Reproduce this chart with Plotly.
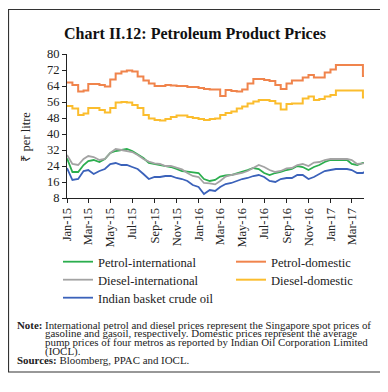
import plotly.graph_objects as go

dates = [
    "2015-01-01", "2015-01-16", "2015-02-01", "2015-02-16", "2015-03-01", "2015-03-16",
    "2015-04-01", "2015-04-16", "2015-05-01", "2015-05-16", "2015-06-01", "2015-06-16",
    "2015-07-01", "2015-07-16", "2015-08-01", "2015-08-16", "2015-09-01", "2015-09-16",
    "2015-10-01", "2015-10-16", "2015-11-01", "2015-11-16", "2015-12-01", "2015-12-16",
    "2016-01-01", "2016-01-16", "2016-02-01", "2016-02-16", "2016-03-01", "2016-03-16",
    "2016-04-01", "2016-04-16", "2016-05-01", "2016-05-16", "2016-06-01", "2016-06-16",
    "2016-07-01", "2016-07-16", "2016-08-01", "2016-08-16", "2016-09-01", "2016-09-16",
    "2016-10-01", "2016-10-16", "2016-11-01", "2016-11-16", "2016-12-01", "2016-12-16",
    "2017-01-01", "2017-01-16", "2017-02-01", "2017-02-16", "2017-03-01", "2017-03-16",
    "2017-04-01", "2017-04-04",
]

petrol_intl = [
    27.8, 21, 21, 24.5, 26.5, 27, 26, 27.5, 30.5, 31.5, 32, 32.5, 31.5, 30, 28, 25.5, 25, 24.5, 24, 23.5, 22.5, 21.5, 21.2, 20.8,
    20.5, 17.5, 16.5, 17, 18.7, 19.3, 19.5, 20.3, 21, 22, 23, 22.5, 20.5, 19.5, 20.5, 21, 22, 22.5, 24, 23.5, 22, 23.5, 24.5, 26,
    27, 27, 27.3, 27, 25, 24.5, 25.5, 25.5,
]
diesel_intl = [
    29.5, 25, 24.5, 27.5, 29, 28.5, 27, 27.5, 30.5, 32.5, 32, 31.5, 31, 29.5, 27.5, 26.2, 25.3, 25, 24, 24, 23, 22.3, 20.5, 19,
    18.5, 15.5, 15.3, 14.8, 16.5, 18.7, 19.5, 20, 20.5, 21.5, 23, 24.5, 23.5, 22, 21, 21.5, 22.8, 23, 24.5, 25, 24, 25.7, 26, 27,
    27.5, 27.5, 27.8, 27.5, 27, 25, 25.3, 25.5,
]
crude_oil = [
    23, 17, 17.5, 21.5, 22, 20, 21.5, 22.5, 25, 25.5, 24.5, 24.5, 23.5, 22.5, 20, 17.5, 18.5, 18.5, 19, 19, 18, 17.5, 16.5, 14.5,
    13.5, 10, 12, 11.5, 13.5, 15, 15.5, 16.5, 17.5, 18, 19, 19.5, 18.5, 16.5, 16, 17.5, 18, 18, 19.5, 19.5, 17.5, 18.5, 20, 21.5,
    22, 22.5, 22.5, 22.5, 22, 20.5, 20.5, 21,
]
petrol_dom = [
    65.7, 64.5, 61.2, 61.7, 65, 65, 64.5, 63.7, 67.3, 70.3, 71.2, 71.7, 71.2, 68.7, 66.7, 65.3, 64, 64, 64.5, 64.3, 64, 64, 63.5, 63.5,
    63, 62.5, 62.3, 62.3, 59, 62, 61.5, 61.2, 62.3, 65.3, 67.5, 67.5, 67, 66.5, 64.5, 62.5, 65.3, 66.7, 66.7, 68.2, 69.5, 68.3, 68.3, 70.7,
    72.3, 74.5, 74.5, 74.5, 74.5, 74.5, 69, 69,
]
diesel_dom = [
    54, 52.8, 49.5, 50.3, 53, 53, 52, 50.7, 53, 55.7, 56, 55.7, 54.5, 53, 49.5, 47.8, 47, 46.7, 47.5, 48.5, 49.2, 49.2, 48.5, 48,
    47.5, 47, 47.5, 47.8, 49.5, 50.5, 51.2, 52.8, 53.7, 55.3, 56.3, 57, 57, 56.5, 55.3, 52.3, 55, 55.3, 55.3, 57.8, 58.7, 57, 57.5, 58.7,
    59.5, 61.7, 61.7, 61.7, 61.7, 61.7, 58.2, 58.2,
]

y_ticks = [8, 16, 24, 32, 40, 48, 56, 64, 72, 80]

FONT = "Liberation Serif"
OFF = 8  # browser default body margin
W, H = 388 - OFF, 392 - OFF
L, R, T, B = 59, 24, 46, 194
PW, PH = W - L - R, H - T - B


def px_x(px):
    return (px - OFF - L) / PW


def px_y(py):
    return (H - B - (py - OFF)) / PH


fig = go.Figure()
fig.add_trace(go.Scatter(x=dates, y=petrol_intl, name="Petrol-international", mode="lines",
                         line=dict(color="#2BAE4E", width=1.8), legend="legend"))
fig.add_trace(go.Scatter(x=dates, y=petrol_dom, name="Petrol-domestic", mode="lines",
                         line=dict(color="#F0844C", width=2, shape="hv"), legend="legend2"))
fig.add_trace(go.Scatter(x=dates, y=diesel_intl, name="Diesel-international", mode="lines",
                         line=dict(color="#A3A3A3", width=1.8), legend="legend3"))
fig.add_trace(go.Scatter(x=dates, y=diesel_dom, name="Diesel-domestic", mode="lines",
                         line=dict(color="#FBBD2E", width=2, shape="hv"), legend="legend4"))
fig.add_trace(go.Scatter(x=dates, y=crude_oil, name="Indian basket crude oil", mode="lines",
                         line=dict(color="#3B62BA", width=1.8), legend="legend5"))

legend_common = dict(font=dict(family=FONT, size=12.6, color="#222"), orientation="v",
                     xref="paper", yref="container", xanchor="left", yanchor="middle",
                     bgcolor="rgba(0,0,0,0)", itemwidth=30, tracegroupgap=0)


def cy(py):
    return 1 - (py - OFF) / H


col1, col2 = px_x(58), px_x(231)
rows = [262, 280, 298]

NOTE_FS = 10.9
annotations = [
    dict(text="<b>Chart II.12: Petroleum Product Prices</b>", x=px_x(194.5), y=px_y(33),
         xref="paper", yref="paper", showarrow=False, xanchor="center", yanchor="middle",
         font=dict(family=FONT, size=16, color="#111")),
    dict(text="₹ per litre", x=px_x(25.5), y=px_y(137), textangle=-90,
         xref="paper", yref="paper", showarrow=False, xanchor="center", yanchor="middle",
         font=dict(family=FONT, size=12.5, color="#222")),
    dict(text="<b>Note:</b>", x=px_x(15.5), y=px_y(324.5),
         xref="paper", yref="paper", showarrow=False, xanchor="left", yanchor="middle",
         borderpad=0, font=dict(family=FONT, size=NOTE_FS, color="#222")),
    dict(text="<b>Sources:</b> Bloomberg, PPAC and IOCL.", x=px_x(15.5), y=px_y(360),
         xref="paper", yref="paper", showarrow=False, xanchor="left", yanchor="middle",
         borderpad=0, font=dict(family=FONT, size=NOTE_FS, color="#222")),
]
note_lines = [
    ("International petrol and diesel prices represent the Singapore spot prices of", 324.5),
    ("gasoline and gasoil, respectively. Domestic prices represent the average", 333.3),
    ("pump prices of four metros as reported by Indian Oil Corporation Limited", 342.2),
    ("(IOCL).", 351),
]
for txt, yy in note_lines:
    annotations.append(dict(text=txt, x=px_x(44), y=px_y(yy), xref="paper", yref="paper",
                            showarrow=False, xanchor="left", yanchor="middle", borderpad=0,
                            font=dict(family=FONT, size=NOTE_FS, color="#222")))

fig.update_layout(
    width=W, height=H, autosize=False,
    margin=dict(l=L, r=R, t=T, b=B, autoexpand=False),
    paper_bgcolor="white", plot_bgcolor="white",
    font=dict(family=FONT, size=12, color="#222"),
    showlegend=True,
    legend=dict(x=col1, y=cy(rows[0]), **legend_common),
    legend2=dict(x=col2, y=cy(rows[0]), **legend_common),
    legend3=dict(x=col1, y=cy(rows[1]), **legend_common),
    legend4=dict(x=col2, y=cy(rows[1]), **legend_common),
    legend5=dict(x=col1, y=cy(rows[2]), **legend_common),
    annotations=annotations,
    shapes=[dict(type="rect", xref="paper", yref="paper",
                 x0=px_x(8.5), x1=px_x(383), y0=px_y(372), y1=px_y(9.5),
                 line=dict(color="#333", width=1.2), fillcolor="rgba(0,0,0,0)", layer="below")],
    xaxis=dict(
        type="date", range=["2015-01-01", "2017-04-04"],
        tickmode="linear", tick0="2015-01-01", dtick="M2", tickformat="%b-%y",
        tickangle=-90, ticks="outside", ticklen=4, tickcolor="#222",
        showline=True, linecolor="#222", linewidth=1, showgrid=False, zeroline=False,
        automargin=False,
        tickfont=dict(family=FONT, size=12.5, color="#222"),
    ),
    yaxis=dict(
        range=[8, 80], tickvals=y_ticks, ticks="outside", ticklen=4, tickcolor="#222",
        showline=True, linecolor="#222", linewidth=1, showgrid=False, zeroline=False,
        automargin=False,
        tickfont=dict(family=FONT, size=12.5, color="#222"),
    ),
)

fig.write_html("out.html")
